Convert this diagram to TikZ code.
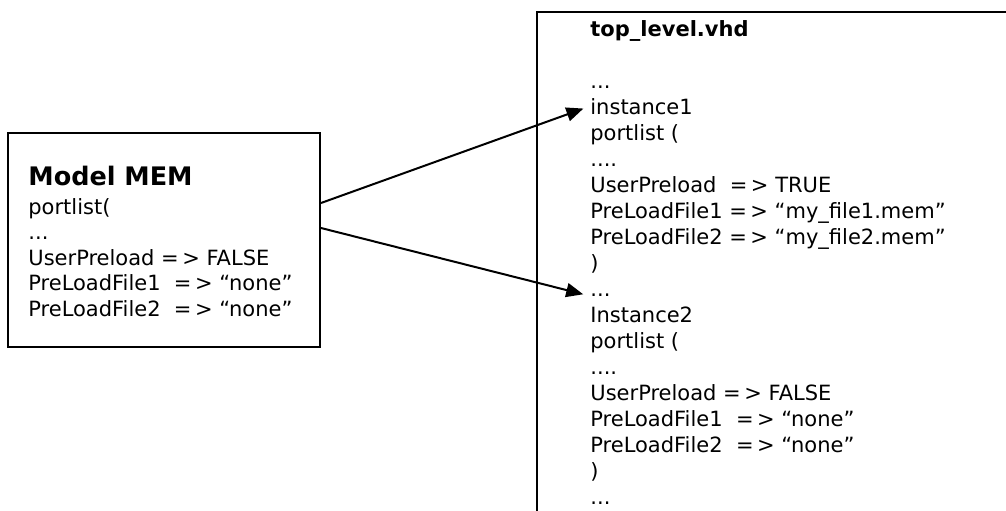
\documentclass[tikz,border=0pt]{standalone}
\usepackage{fontspec}
\setmainfont{DejaVu Sans}
\usetikzlibrary{arrows.meta}

\newcommand{\gives}{=\,>}

\begin{document}
\begin{tikzpicture}[x=0.5pt,y=-0.5pt,
	txt/.style={anchor=base west, inner sep=0pt, font=\fontsize{10.5}{13}\selectfont},
	box/.style={draw, line width=1pt, inner sep=0pt},
	link/.style={-{Triangle[length=8.5pt,width=7pt]}, line width=1pt, shorten >=3.5pt}]

	\useasboundingbox (0,0) rectangle (1006,510);
	\clip (0,0) rectangle (1006,510);

	\node (mem)[box, minimum width=156pt, minimum height=107pt] at (164,240) {};
	\node (top)[box, minimum width=260pt, minimum height=280pt] at (797,292) {}; % runs off the page

	\node (M0)[txt, font=\fontsize{12.75}{15}\selectfont\bfseries] at (28,185) {Model MEM};
	\node (M1)[txt] at (28,214) {portlist(};
	\node (M2)[txt] at (28,239.5) {...};
	\node (M3)[txt] at (28,265) {UserPreload \gives{} FALSE};
	\node (M4)[txt] at (28,290.5) {PreLoadFile1\ \ \gives{} “none”};
	\node (M5)[txt] at (28,316) {PreLoadFile2\ \ \gives{} “none”};

	\node (R1)[txt, font=\fontsize{10.5}{13}\selectfont\bfseries] at (590,36) {top\_level.vhd};
	\node (R3)[txt] at (590,88) {...};
	\node (R4)[txt] at (590,114) {instance1};
	\node (R5)[txt] at (590,140) {portlist (};
	\node (R6)[txt] at (590,166) {....};
	\node (R7)[txt] at (590,192) {UserPreload\ \ \gives{} TRUE};
	\node (R8)[txt] at (590,218) {PreLoadFile1 \gives{} “my\_file1.mem”};
	\node (R9)[txt] at (590,244) {PreLoadFile2 \gives{} “my\_file2.mem”};
	\node (R10)[txt] at (590,270) {)};
	\node (R11)[txt] at (590,296) {...};
	\node (R12)[txt] at (590,322) {Instance2};
	\node (R13)[txt] at (590,348) {portlist (};
	\node (R14)[txt] at (590,374) {....};
	\node (R15)[txt] at (590,400) {UserPreload \gives{} FALSE};
	\node (R16)[txt] at (590,426) {PreLoadFile1\ \ \gives{} “none”};
	\node (R17)[txt] at (590,452) {PreLoadFile2\ \ \gives{} “none”};
	\node (R18)[txt] at (590,478) {)};
	\node (R19)[txt] at (590,504) {...};

	\draw [link] ([yshift=18.5pt]mem.east) to (R4.west);
	\draw [link] ([yshift=6pt]mem.east) to (R11.base west);

\end{tikzpicture}
\end{document}
